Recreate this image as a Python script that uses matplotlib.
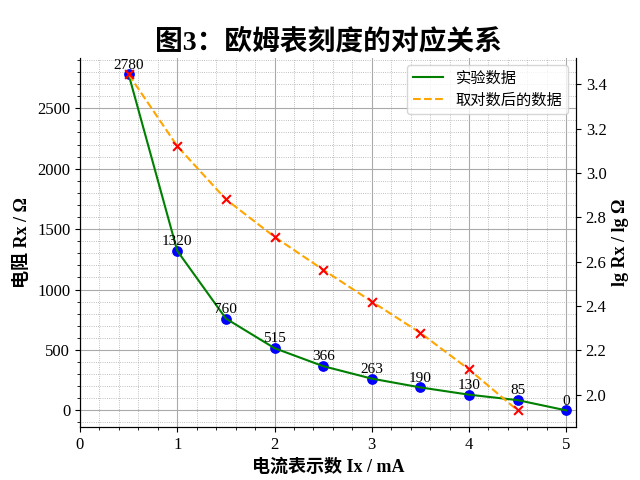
import numpy as np
import matplotlib
matplotlib.use("Agg")
import matplotlib.pyplot as plt
from matplotlib.ticker import AutoMinorLocator

plt.rcParams['font.family'] = ['Liberation Serif', 'Noto Sans CJK SC', 'DejaVu Sans']
plt.rcParams['axes.unicode_minus'] = False

current_ma = [0.5, 1.0, 1.5, 2.0, 2.5, 3.0, 3.5, 4.0, 4.5, 5.0]
resistance = [2780, 1320, 760, 515, 366, 263, 190, 130, 85, 0]
log_x = current_ma[:-1]
log_r = [float(np.log10(r)) for r in resistance[:-1]]

fig, ax = plt.subplots(figsize=(6.4, 4.8), dpi=100)
ax2 = ax.twinx()

ax.scatter(current_ma, resistance, color='blue', s=45, zorder=2)
l1, = ax.plot(current_ma, resistance, color='green', lw=1.5, zorder=3, label='实验数据')
for xv, rv in zip(current_ma, resistance):
    ax.annotate(str(rv), (xv, rv), xytext=(0, 2), textcoords='offset points',
                ha='center', va='bottom', fontsize=11)

l2, = ax2.plot(log_x, log_r, color='orange', ls='--', lw=1.5, label='取对数后的数据')
ax2.scatter(log_x, log_r, color='red', marker='x', s=40, zorder=3)

ax.set_xlim(0, 5.1)
ax.xaxis.set_minor_locator(AutoMinorLocator(5))
ax.yaxis.set_minor_locator(AutoMinorLocator(5))
ax.grid(which='major', color='#aaaaaa', ls='-', lw=0.8)
ax.grid(which='minor', color='#aaaaaa', ls=':', lw=0.6)
ax.set_axisbelow(True)

for a in (ax, ax2):
    a.spines['top'].set_visible(False)
    a.tick_params(labelsize=12)

ax.set_xlabel('电流表示数 Ix / mA', fontsize=13, fontweight='bold')
ax.set_ylabel('电阻 Rx / Ω', fontsize=13, fontweight='bold')
ax2.set_ylabel('lg Rx / lg Ω', fontsize=13, fontweight='bold')
ax.set_title('图3：欧姆表刻度的对应关系', fontsize=20, fontweight='bold')

ax2.legend(handles=[l1, l2], loc='upper right', fontsize=11)

fig.savefig('out.png', dpi=100)
